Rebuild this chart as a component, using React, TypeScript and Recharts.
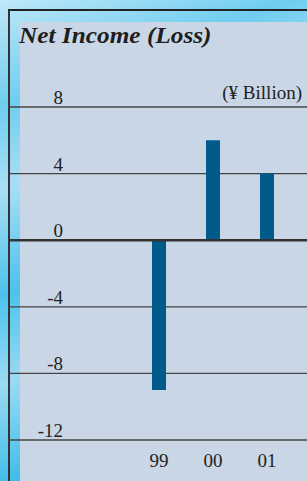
import React from "react";
import { BarChart, Bar, XAxis, YAxis, CartesianGrid, ReferenceLine } from "recharts";

const categories = ["99", "00", "01"];
const netIncome = [-9.0, 6.0, 4.0];
const yTicks = [-12, -8, -4, 0, 4, 8];

const data = categories.map((c, i) => ({ year: c, value: netIncome[i] }));

const FONT = "'Liberation Serif', 'Times New Roman', serif";

const YTick = (props: any) => {
  const { y, payload } = props;
  return (
    <text x={63} y={y - 3} textAnchor="end" fontFamily={FONT} fontSize={19} fill="#222">
      {payload.value}
    </text>
  );
};

const XTick = (props: any) => {
  const { x, payload } = props;
  return (
    <text x={x} y={467} textAnchor="middle" fontFamily={FONT} fontSize={19} fill="#222">
      {payload.value}
    </text>
  );
};

export default function App() {
  return (
    <div
      style={{
        position: "absolute",
        left: 0,
        top: 0,
        width: 307,
        height: 481,
        overflow: "hidden",
        background:
          "linear-gradient(160deg, #bfe8f8 0%, #6fcdf0 18%, #a9def5 32%, #4cc2ec 50%, #9bdaf4 65%, #3fbde9 82%, #a6def6 100%)",
      }}
    >
      <div
        style={{
          position: "absolute",
          left: 8,
          top: 9,
          width: 307,
          height: 481,
          borderTop: "2px solid #222",
          borderLeft: "2px solid #333",
        }}
      />
      <div
        style={{
          position: "absolute",
          left: 20,
          top: 22,
          width: 287,
          height: 459,
          background: "#c9d6e5",
        }}
      />
      <div
        style={{
          position: "absolute",
          left: 19,
          top: 23,
          fontFamily: FONT,
          fontWeight: "bold",
          fontStyle: "italic",
          fontSize: 23,
          color: "#1e1e1e",
          whiteSpace: "nowrap",
          transform: "scaleX(1.1)",
          transformOrigin: "left top",
        }}
      >
        Net Income (Loss)
      </div>
      <div
        style={{
          position: "absolute",
          right: 5,
          top: 82,
          fontFamily: FONT,
          fontSize: 19,
          color: "#222",
          whiteSpace: "nowrap",
        }}
      >
        (¥ Billion)
      </div>
      <div style={{ position: "absolute", left: 0, top: 0 }}>
        <BarChart
          width={307}
          height={481}
          data={data}
          margin={{ top: 107, right: 0, bottom: 0, left: 9 }}
        >
          <CartesianGrid vertical={false} stroke="#444" strokeWidth={1.3} />
          <XAxis
            dataKey="year"
            axisLine={false}
            tickLine={false}
            padding={{ left: 123, right: 13 }}
            height={41}
            tick={<XTick />}
            interval={0}
          />
          <YAxis
            type="number"
            domain={[-12, 8]}
            ticks={yTicks}
            mirror
            axisLine={false}
            tickLine={false}
            tick={<YTick />}
            interval={0}
          />
          <Bar dataKey="value" fill="#005a8a" barSize={14} isAnimationActive={false} />
          <ReferenceLine y={0} stroke="#333" strokeWidth={2.5} />
        </BarChart>
      </div>
    </div>
  );
}
